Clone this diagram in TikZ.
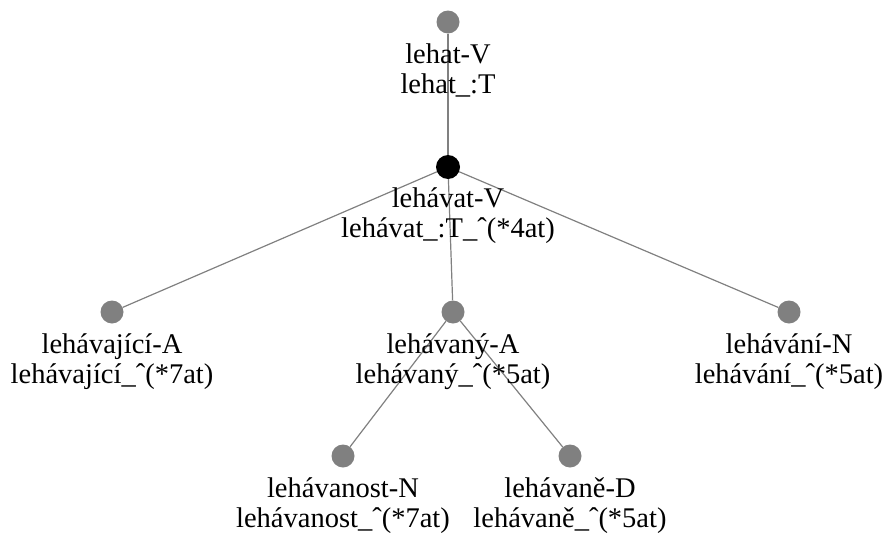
\documentclass[tikz,border=0pt]{standalone}
\usepackage{fontspec}
\setmainfont{Liberation Serif}
\begin{document}
\begin{tikzpicture}[x=1pt,y=-1pt,
  vert/.style={circle,fill=nodegray,inner sep=0pt,minimum size=23pt},
  root/.style={circle,fill=black,inner sep=0pt,minimum size=24pt},
  lab/.style={anchor=base,align=center,inner sep=0pt,font=\fontsize{28.5pt}{30pt}\selectfont},
  edge/.style={draw=edgegray,line width=1.2pt}]
\definecolor{nodegray}{RGB}{128,128,128}
\definecolor{edgegray}{RGB}{128,128,128}
\useasboundingbox (0,0) rectangle (884,533);
% vertices
\node[vert] (lehat) at (448,22) {};
\node[root] (lehavat) at (448,167) {};
\node[vert] (lehavajici) at (112,312) {};
\node[vert] (lehavany) at (453,312) {};
\node[vert] (lehavani) at (789,312) {};
\node[vert] (lehavanost) at (343,456) {};
\node[vert] (lehavane) at (570,456) {};
% edges
\draw[edge] (lehat) -- (lehavat);
\draw[edge] (lehavat) -- (lehavajici);
\draw[edge] (lehavat) -- (lehavany);
\draw[edge] (lehavat) -- (lehavani);
\draw[edge] (lehavany) -- (lehavanost);
\draw[edge] (lehavany) -- (lehavane);
% labels (anchor at the baseline of the second line)
\node[lab] (tlehat) at (448,93) {lehat-V\\lehat\_:T};
\node[lab] (tlehavat) at (448,237) {lehávat-V\\lehávat\_:T\_ˆ(*4at)};
\node[lab] (tlehavajici) at (112,383) {lehávající-A\\lehávající\_ˆ(*7at)};
\node[lab] (tlehavany) at (453,383) {lehávaný-A\\lehávaný\_ˆ(*5at)};
\node[lab] (tlehavani) at (789,383) {lehávání-N\\lehávání\_ˆ(*5at)};
\node[lab] (tlehavanost) at (343,527) {lehávanost-N\\lehávanost\_ˆ(*7at)};
\node[lab] (tlehavane) at (570,527) {lehávaně-D\\lehávaně\_ˆ(*5at)};
\end{tikzpicture}
\end{document}
